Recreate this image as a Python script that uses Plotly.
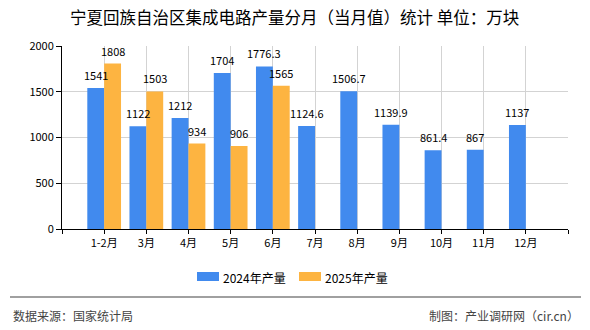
import plotly.graph_objects as go

categories = ["1-2月", "3月", "4月", "5月", "6月", "7月", "8月", "9月", "10月", "11月", "12月"]
values_2024 = [1541, 1122, 1212, 1704, 1776.3, 1124.6, 1506.7, 1139.9, 861.4, 867, 1137]
values_2025 = [1808, 1503, 934, 906, 1565, None, None, None, None, None, None]
series_names = ["2024年产量", "2025年产量"]
y_ticks = [0, 500, 1000, 1500, 2000]

title_text = "宁夏回族自治区集成电路产量分月（当月值）统计 单位：万块"
source_text = "数据来源：国家统计局"
credit_text = "制图：产业调研网（cir.cn）"

BLUE = "#418AEE"
ORANGE = "#FDB441"
FONT = "Noto Sans CJK SC"

W, H = 590, 330
L, R, T, B = 62, 22, 46, 101
PW, PH = W - L - R, H - T - B

def px_x(x):
    return (x - L) / PW

def px_y(y):
    return (H - B - y) / PH

def fmt(v):
    return f"{v:g}"

xs = list(range(len(categories)))
BAR_W = 0.4
series = [(values_2024, series_names[0], BLUE, -BAR_W / 2), (values_2025, series_names[1], ORANGE, BAR_W / 2)]

fig = go.Figure()
for vals, name, col, off in series:
    fig.add_trace(go.Bar(x=xs, y=vals, name=name, marker_color=col,
                         marker_line_width=0, width=BAR_W, offset=off - BAR_W / 2))

tickvals = [-1] + xs + [len(categories)]
ticktext = [""] + categories + [""]

fig.update_layout(
    width=W, height=H,
    margin=dict(l=L, r=R, t=T, b=B, pad=0),
    paper_bgcolor="white", plot_bgcolor="white",
    barmode="overlay",
    showlegend=False,
    font=dict(family=FONT, size=11, color="#000"),
    xaxis=dict(range=[-1, len(categories)], tickmode="array", tickvals=tickvals, ticktext=ticktext,
               showgrid=True, gridcolor="#d3d3d3", gridwidth=1,
               showline=True, linecolor="#000", linewidth=1,
               ticks="outside", ticklen=4, tickcolor="#000",
               tickfont=dict(family=FONT, size=11, color="#000"), zeroline=False),
    yaxis=dict(range=[0, 2000], tickmode="array", tickvals=y_ticks,
               showgrid=True, gridcolor="#d3d3d3", gridwidth=1,
               showline=True, linecolor="#000", linewidth=1,
               ticks="outside", ticklen=5, tickcolor="#000",
               tickfont=dict(family=FONT, size=11, color="#000"), zeroline=False),
)

shapes = []
annotations = []

# value labels (drawn above all bars)
for vals, name, col, off in series:
    for i, v in zip(xs, vals):
        if v is None:
            continue
        annotations.append(dict(text=fmt(v), x=i + off, y=v, xref="x", yref="y",
                                xanchor="center", yanchor="bottom", yshift=3, showarrow=False,
                                font=dict(family=FONT, size=11, color="#000")))

# title
annotations.append(dict(text=title_text, x=px_x(294), y=px_y(17.5), xref="paper", yref="paper",
                        xanchor="center", yanchor="middle", showarrow=False,
                        font=dict(family=FONT, size=16.5, color="#000")))

# manual legend
legend_items = [(197, BLUE, series_names[0]), (299, ORANGE, series_names[1])]
for x0, col, name in legend_items:
    shapes.append(dict(type="rect", xref="paper", yref="paper",
                       x0=px_x(x0), x1=px_x(x0 + 22), y0=px_y(272), y1=px_y(281),
                       fillcolor=col, line=dict(width=0)))
    annotations.append(dict(text=name, x=px_x(x0 + 24), y=px_y(277), xref="paper", yref="paper",
                            xanchor="left", yanchor="middle", showarrow=False,
                            font=dict(family=FONT, size=12, color="#000")))

# footer separator line
shapes.append(dict(type="line", xref="paper", yref="paper",
                   x0=px_x(10), x1=px_x(581), y0=px_y(297), y1=px_y(297),
                   line=dict(color="#808080", width=1.5)))

annotations.append(dict(text=source_text, x=px_x(11), y=px_y(315), xref="paper", yref="paper",
                        xanchor="left", yanchor="middle", showarrow=False,
                        font=dict(family=FONT, size=12, color="#444")))
annotations.append(dict(text=credit_text, x=px_x(581), y=px_y(315), xref="paper", yref="paper",
                        xanchor="right", yanchor="middle", showarrow=False,
                        font=dict(family=FONT, size=12, color="#444")))

fig.update_layout(shapes=shapes, annotations=annotations)

fig.write_html("out.html")
